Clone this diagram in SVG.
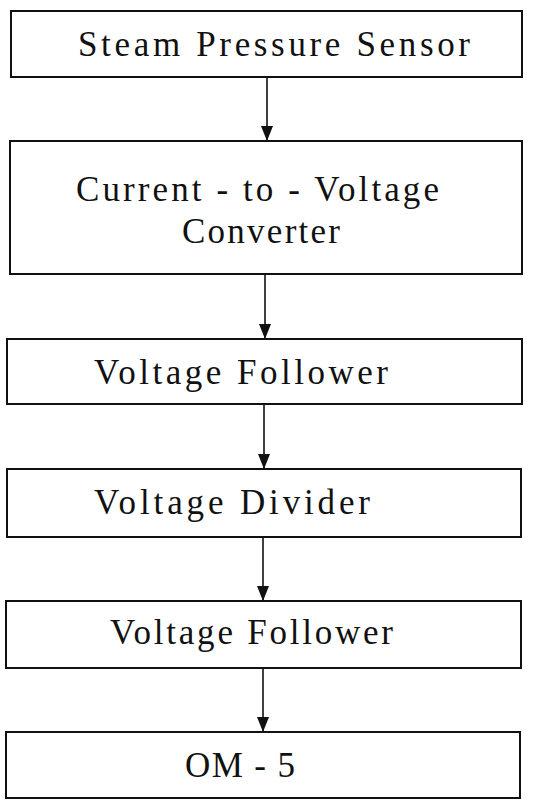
<svg xmlns="http://www.w3.org/2000/svg" width="533" height="800" viewBox="0 0 533 800">
  <style>
    .box { fill: #ffffff; stroke: #111111; stroke-width: 2; }
    .lbl { font-family: "Liberation Serif", "Times New Roman", serif; font-size: 35px; fill: #111111; }
    .wire { stroke: #111111; stroke-width: 1.6; fill: none; }
  </style>
  <defs>
    <!-- filled triangular head, tip at the end of the line -->
    <marker id="arrow" viewBox="0 0 15 12" refX="15" refY="6" markerWidth="15" markerHeight="12" markerUnits="userSpaceOnUse" orient="auto">
      <path d="M0,0 L15,6 L0,12 Z" fill="#111111"/>
    </marker>
  </defs>
  <rect width="533" height="800" fill="#ffffff"/>

  <g id="connectors">
    <line class="wire" x1="267" y1="78" x2="267" y2="141" marker-end="url(#arrow)"/>
    <line class="wire" x1="265" y1="274" x2="265" y2="339" marker-end="url(#arrow)"/>
    <line class="wire" x1="264" y1="404" x2="264" y2="469" marker-end="url(#arrow)"/>
    <line class="wire" x1="263" y1="537" x2="263" y2="601" marker-end="url(#arrow)"/>
    <line class="wire" x1="263" y1="668" x2="263" y2="732" marker-end="url(#arrow)"/>
  </g>

  <g id="sensor">
    <rect class="box" x="11" y="11" width="511" height="66"/>
    <text class="lbl" x="78" y="56" textLength="392" lengthAdjust="spacing">Steam Pressure Sensor</text>
  </g>

  <g id="iv-converter">
    <rect class="box" x="10" y="141" width="512" height="133"/>
    <text class="lbl" x="76" y="201" textLength="363" lengthAdjust="spacing">Current - to - Voltage</text>
    <text class="lbl" x="182" y="243" textLength="158" lengthAdjust="spacing">Converter</text>
  </g>

  <g id="follower-1">
    <rect class="box" x="7" y="339" width="515" height="65"/>
    <text class="lbl" x="94" y="384" textLength="294" lengthAdjust="spacing">Voltage  Follower</text>
  </g>

  <g id="divider">
    <rect class="box" x="7" y="469" width="514" height="68"/>
    <text class="lbl" x="94" y="514" textLength="276" lengthAdjust="spacing">Voltage  Divider</text>
  </g>

  <g id="follower-2">
    <rect class="box" x="6" y="601" width="515" height="67"/>
    <text class="lbl" x="110" y="644" textLength="283" lengthAdjust="spacing">Voltage  Follower</text>
  </g>

  <g id="om5">
    <rect class="box" x="6" y="732" width="514" height="66"/>
    <text class="lbl" x="185" y="777" textLength="110" lengthAdjust="spacing">OM - 5</text>
  </g>
</svg>
